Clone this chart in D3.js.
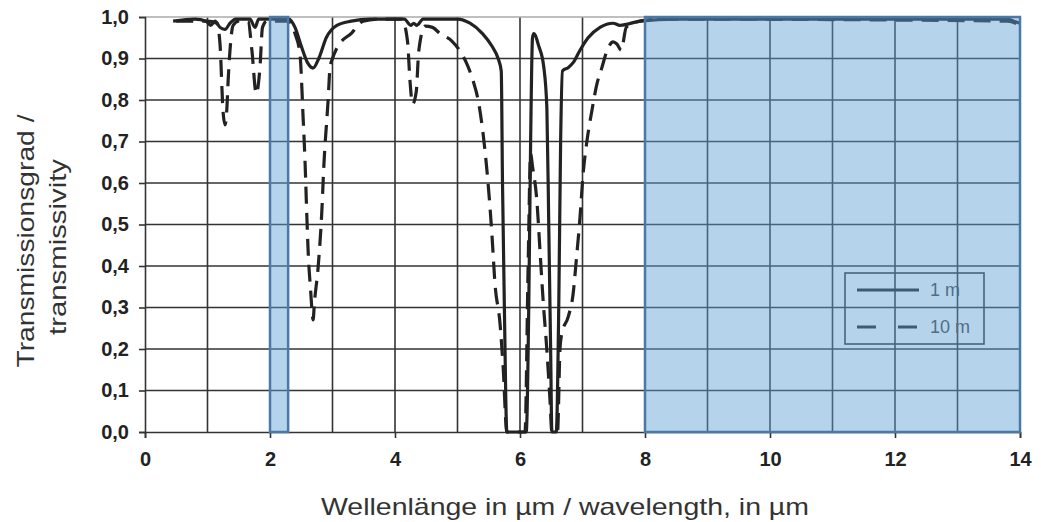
<!DOCTYPE html>
<html>
<head>
<meta charset="utf-8">
<script src="https://cdn.jsdelivr.net/npm/d3@7"></script>
<style>
  body { margin: 0; background: #fff; }
  text { font-family: Arial, "Liberation Sans", sans-serif; }
</style>
</head>
<body>
<div id="mychart"></div>
<script>
// data: [wavelength in µm, transmissivity]
var series1m = [
  [0.45,0.99],[0.8,0.995],[0.98,0.99],[1.05,0.98],[1.12,0.99],[1.2,0.975],[1.28,0.97],
  [1.36,0.985],[1.45,0.995],[1.68,0.995],[1.76,0.975],[1.82,0.995],[2.3,0.995],[2.4,0.975],
  [2.5,0.93],[2.6,0.89],[2.69,0.877],[2.78,0.9],[2.9,0.95],[3.07,0.98],[3.3,0.99],[3.6,0.995],
  [4.15,0.995],[4.25,0.98],[4.3,0.985],[4.35,0.98],[4.45,0.995],[5.0,0.995],[5.2,0.985],
  [5.4,0.96],[5.55,0.93],[5.65,0.9],[5.7,0.87],[5.72,0.6],[5.75,0.3],[5.79,0],[6.1,0],
  [6.14,0.3],[6.17,0.7],[6.2,0.95],[6.22,0.96],[6.3,0.93],[6.38,0.88],[6.43,0.78],[6.46,0.5],
  [6.49,0.2],[6.51,0],[6.58,0],[6.62,0.3],[6.65,0.7],[6.68,0.87],[6.77,0.878],[6.85,0.89],
  [6.96,0.92],[7.09,0.95],[7.28,0.975],[7.49,0.985],[7.6,0.98],[7.92,0.99],[8.5,0.995],
  [13.8,0.995],[13.9,0.99],[14,0.985]
];
var series10m = [
  [0.5,0.99],[1.0,0.99],[1.15,0.985],[1.2,0.935],[1.25,0.77],[1.28,0.74],[1.31,0.78],
  [1.33,0.846],[1.36,0.92],[1.41,0.98],[1.5,0.99],[1.65,0.99],[1.71,0.92],[1.78,0.815],
  [1.84,0.88],[1.88,0.975],[1.95,0.99],[2.3,0.99],[2.4,0.96],[2.48,0.91],[2.53,0.757],
  [2.56,0.654],[2.59,0.517],[2.61,0.437],[2.65,0.341],[2.69,0.27],[2.71,0.31],[2.77,0.397],
  [2.83,0.534],[2.86,0.637],[2.93,0.8],[2.96,0.877],[3.0,0.9],[3.07,0.925],[3.31,0.962],
  [3.49,0.99],[3.76,0.995],[4.11,0.995],[4.2,0.942],[4.24,0.846],[4.28,0.79],[4.34,0.82],
  [4.38,0.918],[4.48,0.978],[4.6,0.975],[4.72,0.96],[4.91,0.942],[5.04,0.918],[5.15,0.887],
  [5.25,0.846],[5.33,0.8],[5.41,0.718],[5.49,0.598],[5.55,0.478],[5.6,0.357],[5.68,0.262],
  [5.73,0.157],[5.79,0],[6.08,0],[6.13,0.4],[6.17,0.67],[6.2,0.64],[6.27,0.557],[6.32,0.437],
  [6.37,0.317],[6.43,0.197],[6.48,0.077],[6.51,0],[6.6,0],[6.64,0.2],[6.67,0.238],[6.77,0.277],
  [6.85,0.333],[6.9,0.413],[6.96,0.517],[7.01,0.622],[7.07,0.7],[7.15,0.774],[7.23,0.838],
  [7.31,0.878],[7.39,0.918],[7.49,0.94],[7.55,0.935],[7.62,0.92],[7.7,0.975],[7.92,0.99],
  [8.2,0.995],[13.8,0.99],[14,0.98]
];
// shaded wavelength bands [from, to]
var bands = [[2.0, 2.29], [8.0, 14.0]];
var xTicks = [0, 2, 4, 6, 8, 10, 12, 14];
var yTicks = [0, 0.1, 0.2, 0.3, 0.4, 0.5, 0.6, 0.7, 0.8, 0.9, 1.0];
var legendLabels = ["1 m", "10 m"];

var margin = {left:145, right:21, top:17, bottom:90};
var width = 1041 - margin.left - margin.right,
    height = 522 - margin.top - margin.bottom;

var svg = d3.select("#mychart")
  .append("svg")
    .attr("width", 1041)
    .attr("height", 522)
  .append("g")
    .attr("transform", "translate(" + margin.left + "," + margin.top + ")");

var x = d3.scaleLinear().domain([0, 14]).range([0, width]);
var y = d3.scaleLinear().domain([0, 1]).range([height, 0]);

// grid
svg.append("g").selectAll("line")
  .data(d3.range(1, 14))
  .enter().append("line")
    .attr("x1", function(d) { return x(d); })
    .attr("x2", function(d) { return x(d); })
    .attr("y1", 0).attr("y2", height)
    .attr("stroke", "#333").attr("stroke-width", 1.6);
svg.append("g").selectAll("line")
  .data(yTicks.slice(1))
  .enter().append("line")
    .attr("x1", 0).attr("x2", width)
    .attr("y1", function(d) { return y(d); })
    .attr("y2", function(d) { return y(d); })
    .attr("stroke", function(d) { return d === 1 ? "#aaa" : "#333"; })
    .attr("stroke-width", 1.6);

// axes
var fmt = function(d) { return d3.format(".1f")(d).replace(".", ","); };
var yAxis = svg.append("g")
  .call(d3.axisLeft(y).tickValues(yTicks).tickSize(6).tickPadding(10).tickFormat(fmt));
var xAxis = svg.append("g")
  .attr("transform", "translate(0," + height + ")")
  .call(d3.axisBottom(x).tickValues(xTicks).tickSize(6).tickPadding(14));
[xAxis, yAxis].forEach(function(a) {
  a.select(".domain").attr("stroke", "#333").attr("stroke-width", 1.6);
  a.selectAll(".tick line").attr("stroke", "#333").attr("stroke-width", 1.6);
  a.selectAll(".tick text")
    .attr("fill", "#222")
    .style("font-size", "20px")
    .style("font-weight", "bold")
    .style("font-family", "Arial, 'Liberation Sans', sans-serif");
});

// curves
var line = d3.line()
  .x(function(d) { return x(d[0]); })
  .y(function(d) { return y(d[1]); })
  .curve(d3.curveMonotoneX);

svg.append("path")
  .datum(series10m)
  .attr("d", line)
  .attr("fill", "none")
  .attr("stroke", "#222")
  .attr("stroke-width", 3.2)
  .attr("stroke-dasharray", "17,9");

svg.append("path")
  .datum(series1m)
  .attr("d", line)
  .attr("fill", "none")
  .attr("stroke", "#222")
  .attr("stroke-width", 3.2);

// legend
var lg = svg.append("g").attr("transform", "translate(" + (845 - margin.left) + "," + (273 - margin.top) + ")");
lg.append("rect")
  .attr("width", 139).attr("height", 71)
  .attr("fill", "none").attr("stroke", "#333").attr("stroke-width", 1.6);
lg.selectAll(".lgline")
  .data(legendLabels)
  .enter().append("line")
    .attr("x1", 12).attr("x2", 74)
    .attr("y1", function(d, i) { return 17 + i * 37; })
    .attr("y2", function(d, i) { return 17 + i * 37; })
    .attr("stroke", "#222").attr("stroke-width", 3.2)
    .attr("stroke-dasharray", function(d, i) { return i ? "19,22" : null; });
lg.selectAll(".lgtext")
  .data(legendLabels)
  .enter().append("text")
    .attr("x", 85)
    .attr("y", function(d, i) { return 23 + i * 37; })
    .attr("fill", "#444")
    .style("font-size", "18px")
    .text(function(d) { return d; });

// shaded bands on top
svg.append("g").selectAll("rect")
  .data(bands)
  .enter().append("rect")
    .attr("x", function(d) { return x(d[0]); })
    .attr("width", function(d) { return x(d[1]) - x(d[0]); })
    .attr("y", 0).attr("height", height)
    .attr("fill", "rgb(93,159,211)").attr("fill-opacity", 0.46)
    .attr("stroke", "#4a78a8").attr("stroke-width", 2.5);

// axis titles
svg.append("text")
  .attr("x", 565 - margin.left)
  .attr("y", 515 - margin.top)
  .attr("text-anchor", "middle")
  .attr("fill", "#333")
  .attr("textLength", 488)
  .attr("lengthAdjust", "spacingAndGlyphs")
  .style("font-size", "24px")
  .text("Wellenlänge in µm / wavelength, in µm");

var yl = svg.append("g").attr("transform", "translate(" + (-margin.left) + ",0)");
yl.append("text")
  .attr("transform", "translate(34,224) rotate(-90)")
  .attr("text-anchor", "middle")
  .attr("fill", "#333")
  .attr("textLength", 253)
  .attr("lengthAdjust", "spacingAndGlyphs")
  .style("font-size", "24px")
  .text("Transmissionsgrad /");
yl.append("text")
  .attr("transform", "translate(66,230) rotate(-90)")
  .attr("text-anchor", "middle")
  .attr("fill", "#333")
  .attr("textLength", 176)
  .attr("lengthAdjust", "spacingAndGlyphs")
  .style("font-size", "24px")
  .text("transmissivity");
</script>
</body>
</html>
